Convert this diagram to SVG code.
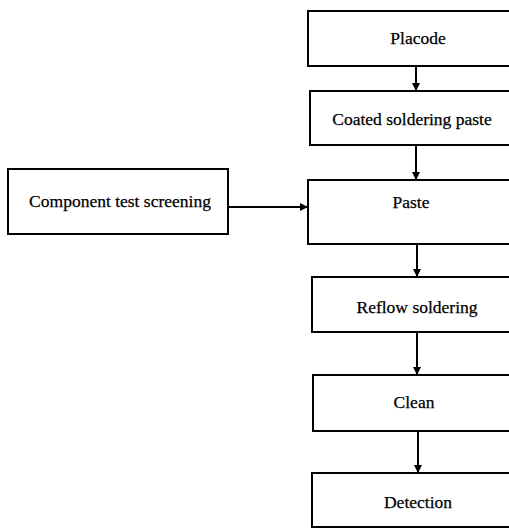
<svg xmlns="http://www.w3.org/2000/svg" width="509" height="529" viewBox="0 0 509 529">
<style>
.box{fill:#fff;stroke:#000;stroke-width:2}
.t{font-family:"Liberation Serif","Times New Roman",serif;font-size:17.5px;fill:#000;stroke:#000;stroke-width:0.25;text-anchor:middle}
.c{stroke:#000;stroke-width:2;fill:none}
</style>
<defs>
<marker id="ah" markerWidth="8" markerHeight="8" refX="8" refY="4" orient="auto" markerUnits="userSpaceOnUse">
<path d="M0,0 L8,4 L0,8 Z" fill="#000"/>
</marker>
</defs>
<rect width="509" height="529" fill="#fff"/>
<g id="connectors">
<line class="c" x1="416" y1="66" x2="416" y2="91" marker-end="url(#ah)"/>
<line class="c" x1="416" y1="145" x2="416" y2="180" marker-end="url(#ah)"/>
<line class="c" x1="228" y1="207" x2="308" y2="207" stroke-width="3.5" marker-end="url(#ah)"/>
<line class="c" x1="417" y1="244" x2="417" y2="277" marker-end="url(#ah)"/>
<line class="c" x1="417" y1="332" x2="417" y2="375" marker-end="url(#ah)"/>
<line class="c" x1="418" y1="431" x2="418" y2="473" marker-end="url(#ah)"/>
</g>
<g id="placode"><rect class="box" x="308" y="11" width="210" height="55"/><text class="t" x="418" y="44">Placode</text></g>
<g id="coated"><rect class="box" x="310" y="91" width="210" height="54"/><text class="t" x="412" y="125">Coated soldering paste</text></g>
<g id="component"><rect class="box" x="8" y="169" width="220" height="65"/><text class="t" x="120" y="207">Component test screening</text></g>
<g id="paste"><rect class="box" x="308" y="180" width="210" height="64"/><text class="t" x="411" y="208">Paste</text></g>
<g id="reflow"><rect class="box" x="312" y="277" width="210" height="55"/><text class="t" x="417" y="313">Reflow soldering</text></g>
<g id="clean"><rect class="box" x="313" y="375" width="210" height="56"/><text class="t" x="414" y="408">Clean</text></g>
<g id="detection"><rect class="box" x="312" y="473" width="210" height="54"/><text class="t" x="418" y="508">Detection</text></g>
</svg>
